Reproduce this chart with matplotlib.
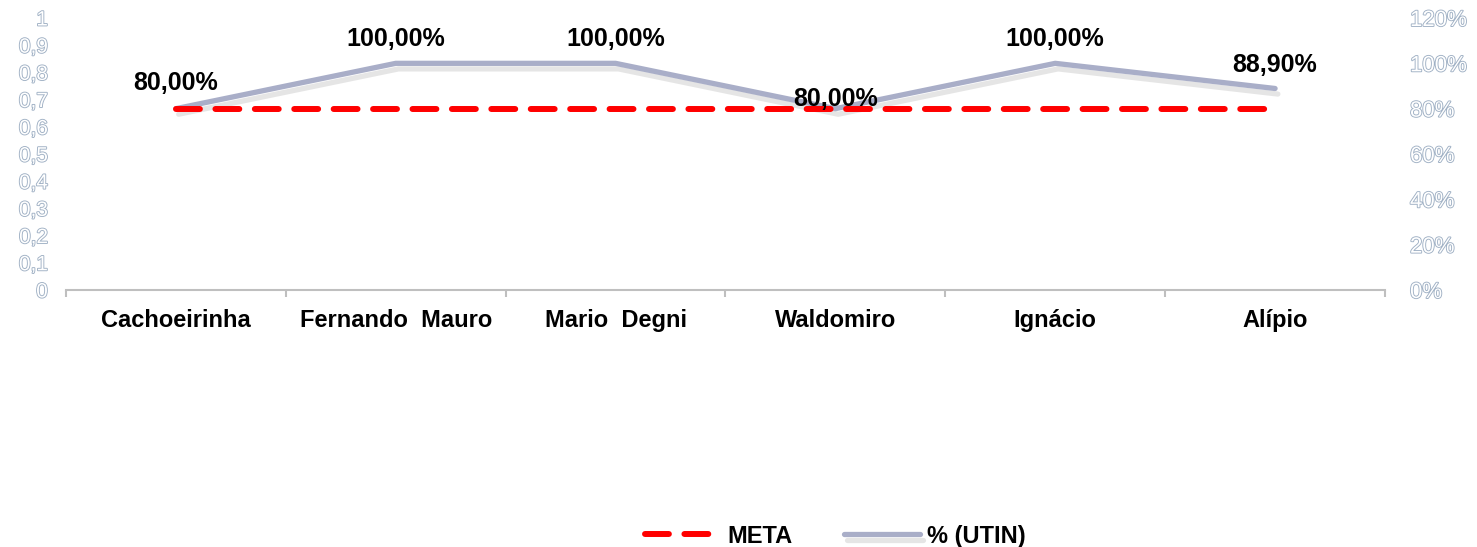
import matplotlib.pyplot as plt
import matplotlib.patheffects as pe
import numpy as np

plt.rcParams['font.family'] = ['Liberation Sans', 'DejaVu Sans']

categories = ['Cachoeirinha', 'Fernando  Mauro', 'Mario  Degni', 'Waldomiro', 'Ignácio', 'Alípio']
utin = [80.0, 100.0, 100.0, 80.0, 100.0, 88.9]
meta = [80.0, 80.0, 80.0, 80.0, 80.0, 80.0]
label_offsets = [10, 9, 9, -2, 9, 8]

left_ticks = np.round(np.arange(0, 1.01, 0.1), 1)
right_ticks = [0, 20, 40, 60, 80, 100, 120]

fig = plt.figure(figsize=(14.77, 5.47), dpi=100)
ax = fig.add_axes([66 / 1477, 1 - 290 / 547, (1385 - 66) / 1477, 272 / 547])
ax2 = ax.twinx()

x = np.arange(len(categories))

# outlined tick labels (white fill, light outline)
outline = [pe.withStroke(linewidth=1.3, foreground='#9FB0C4')]

ax.set_xlim(-0.5, len(categories) - 0.5)
ax.set_ylim(0, 1)
ax.set_yticks(left_ticks)
ax.set_yticklabels(['0' if v == 0 else ('1' if v == 1 else f'{v:.1f}'.replace('.', ',')) for v in left_ticks])
for t in ax.get_yticklabels():
    t.set_color('white')
    t.set_fontsize(15)
    t.set_path_effects(outline)
ax.tick_params(axis='y', length=0, pad=13)

ax.set_xticks(x)
ax.set_xticklabels(categories, fontsize=17, fontweight='bold')
ax.set_xticks(np.arange(-0.5, len(categories), 1), minor=True)
ax.tick_params(axis='x', which='major', length=0, pad=14)
ax.tick_params(axis='x', which='minor', length=5, color='#BFBFBF', width=1.5, direction='out')

for s in ['top', 'left', 'right']:
    ax.spines[s].set_visible(False)
    ax2.spines[s].set_visible(False)
ax.spines['bottom'].set_color('#BFBFBF')
ax.spines['bottom'].set_linewidth(1.5)
ax2.spines['bottom'].set_visible(False)

ax2.set_ylim(0, 120)
ax2.set_yticks(right_ticks)
ax2.set_yticklabels([f'{v}%' for v in right_ticks])
for t in ax2.get_yticklabels():
    t.set_color('white')
    t.set_fontsize(16)
    t.set_path_effects(outline)
ax2.tick_params(axis='y', length=0, pad=18)

l1, = ax2.plot(x, meta, color='#FF0000', lw=4.3, ls=(0, (4, 2.6)), zorder=3,
               dash_capstyle='round', label='META')
l2, = ax2.plot(x, utin, color='#A9AEC8', lw=3.8, zorder=2, solid_capstyle='round',
               path_effects=[pe.SimpleLineShadow(offset=(2, -4), alpha=0.2, shadow_color='gray'), pe.Normal()],
               label='% (UTIN)')

for xi, v, off in zip(x, utin, label_offsets):
    ax2.annotate(f'{v:.2f}%'.replace('.', ','), (xi, v), xytext=(0, off), textcoords='offset points',
                 ha='center', va='bottom', fontsize=18, fontweight='bold')

fig.legend(handles=[l1, l2], loc='lower center', bbox_to_anchor=(835 / 1477, -0.04), ncol=2, frameon=False,
           prop={'size': 17, 'weight': 'bold'}, handlelength=3.2, handletextpad=0.3, columnspacing=2.2)

fig.savefig('out.png', dpi=100)
